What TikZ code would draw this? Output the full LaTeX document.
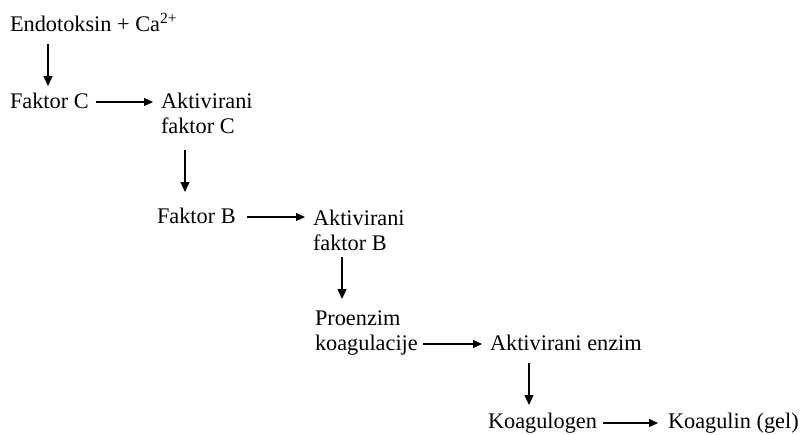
\documentclass[tikz,border=0pt]{standalone}
\usepackage{fontspec}
\setmainfont{Liberation Serif}
\usetikzlibrary{arrows.meta}
\begin{document}
\begin{tikzpicture}[x=1pt,y=1pt,
  lbl/.style={inner sep=0pt,outer sep=0pt,anchor=base west,align=left,
    font=\fontsize{22.3}{25}\selectfont},
  harr/.style={line width=1.1pt,-{Triangle[length=9pt,width=8pt]}},
  varr/.style={line width=1.3pt,-{Triangle[length=10pt,width=9pt]}}]
\useasboundingbox (0,0) rectangle (801,-434);
% single-line nodes: anchored at their baseline; two-line nodes: at the last line's baseline
\node[lbl] (endo) at (10,-31) {Endotoksin + Ca\textsuperscript{2+}};
\node[lbl] (fc) at (10,-108) {Faktor C};
\node[lbl] (afc) at (161,-133) {Aktivirani\\faktor C};
\node[lbl] (fb) at (157,-223) {Faktor B};
\node[lbl] (afb) at (313,-250) {Aktivirani\\faktor B};
\node[lbl] (pro) at (315,-350) {Proenzim\\koagulacije};
\node[lbl] (ae) at (490,-350) {Aktivirani enzim};
\node[lbl] (kg) at (488,-428) {Koagulogen};
\node[lbl] (kl) at (668,-428) {Koagulin (gel)};
% vertical arrows
\draw[varr] ([shift={(38,-13)}]endo.base west) -- ([shift={(38,22)}]fc.base west);
\draw[varr] ([shift={(24,-17)}]afc.base west) -- ([shift={(28,31)}]fb.base west);
\draw[varr] ([shift={(29,-7)}]afb.base west) -- ([shift={(27,51)}]pro.base west);
\draw[varr] ([shift={(39,-13)}]ae.base west) -- ([shift={(41,23)}]kg.base west);
% horizontal arrows
\draw[harr] ([shift={(7,6)}]fc.base east) -- ([shift={(-8,31)}]afc.base west);
\draw[harr] ([shift={(11,6)}]fb.base east) -- ([shift={(-8,33)}]afb.base west);
\draw[harr] ([shift={(5,6)}]pro.base east) -- ([shift={(-8,6)}]ae.base west);
\draw[harr] ([shift={(6,5)}]kg.base east) -- ([shift={(-10,5)}]kl.base west);
\end{tikzpicture}
\end{document}
